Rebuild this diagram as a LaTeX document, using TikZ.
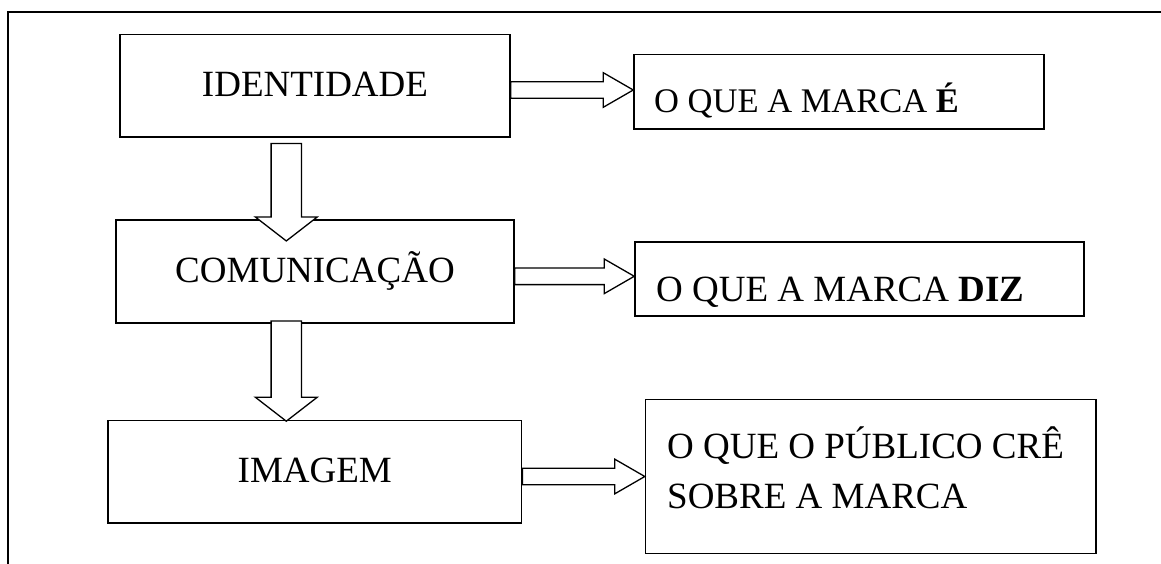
\documentclass[tikz,border=0pt]{standalone}
\usepackage{fontspec}
\setmainfont{Liberation Serif}
\usetikzlibrary{calc}
\tikzstyle{box} = [draw, line width=1.5pt, fill=white, rectangle, inner sep=0pt, text height=30pt, text depth=8.5pt, font=\fontsize{37}{44}\selectfont]
\tikzstyle{txt} = [anchor=base west, inner sep=0pt, font=\fontsize{37}{50}\selectfont]
\tikzstyle{blk} = [draw, line width=1.3pt, fill=white, line join=miter]
\newcommand{\hblock}[2]{\draw[blk] let \p1=(#1), \p2=(#2) in (\x1,\y1+8.3pt) -- (\x2-30pt,\y1+8.3pt) -- (\x2-30pt,\y1+17.3pt) -- (\x2,\y1) -- (\x2-30pt,\y1-17.3pt) -- (\x2-30pt,\y1-8.3pt) -- (\x1,\y1-8.3pt) -- cycle;}
\newcommand{\vblock}[2]{\draw[blk] let \p1=(#1), \p2=(#2) in (\x1-15.2pt,\y1) -- (\x1-15.2pt,\y2+24pt) -- (\x1-31pt,\y2+24pt) -- (\x1,\y2) -- (\x1+31pt,\y2+24pt) -- (\x1+15.2pt,\y2+24pt) -- (\x1+15.2pt,\y1) -- cycle;}
\begin{document}
\begin{tikzpicture}[x=1pt,y=-1pt]
	\useasboundingbox (0,0) rectangle (1161,564);
	\draw[line width=2pt] (8,564) -- (8,11.7) -- (1161,11.7);
	\node[box, minimum width=390pt, minimum height=102.7pt] (ident) at (315,85.7) {IDENTIDADE};
	\node[box, minimum width=398pt, minimum height=103pt] (com) at (315,271.5) {COMUNICAÇÃO};
	\node[box, minimum width=413.6pt, minimum height=102.7pt] (img) at (314.8,471.7) {IMAGEM};
	\node[box, minimum width=410pt, minimum height=74.7pt] (oqe) at (839,91.7) {};
	\node[box, minimum width=449pt, minimum height=74.3pt] (diz) at (859.5,279) {};
	\node[box, minimum width=450.5pt, minimum height=154.4pt] (pub) at (870.8,476.5) {};
	\node[txt, font=\fontsize{34.5}{40}\selectfont] (oqe-t) at (654,112.7) {O QUE A MARCA \textbf{É}};
	\node[txt] (diz-t) at (656,301.7) {O QUE A MARCA \textbf{DIZ}};
	\node[txt, align=left] (pub-t) at (667,508.7) {O QUE O PÚBLICO CRÊ\\SOBRE A MARCA};
	\coordinate (a1) at ([yshift=-4.3pt]ident.east);
	\coordinate (a2) at ([yshift=-4.8pt]com.east);
	\coordinate (a3) at ([yshift=-4.8pt]img.east);
	\coordinate (d1) at ([xshift=-28.7pt,yshift=-5.7pt]ident.south);
	\coordinate (d2) at ([xshift=-28.7pt,yshift=2.7pt]com.south);
	\hblock{a1}{oqe.west}
	\hblock{a2}{diz.west}
	\hblock{a3}{pub.west}
	\vblock{d1}{[yshift=-21.7pt]com.north}
	\vblock{d2}{[yshift=-1.6pt]img.north}
\end{tikzpicture}
\end{document}
